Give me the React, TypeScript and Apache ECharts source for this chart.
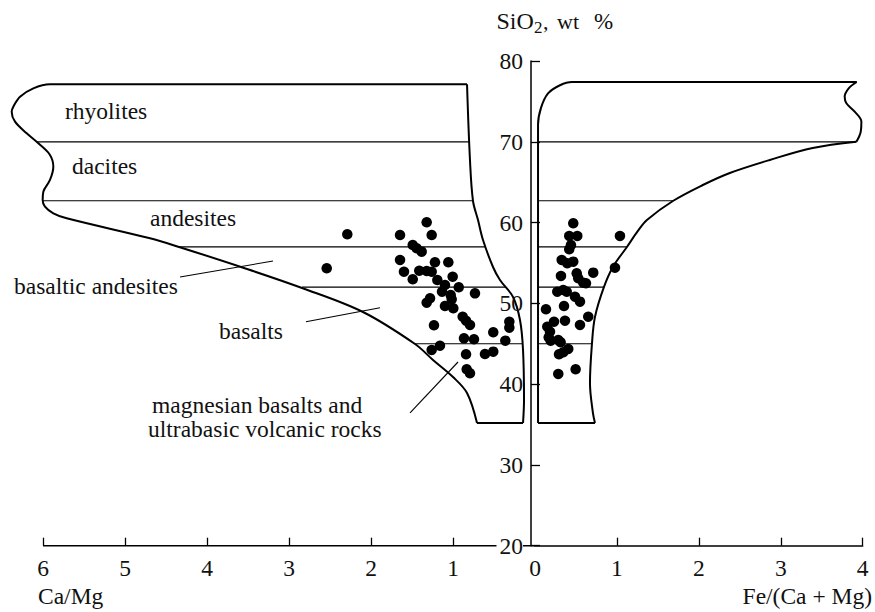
import React, { useEffect, useRef } from "react";
import * as echarts from "echarts";

const FONT = "'Liberation Serif', 'Times New Roman', Times, serif";

// ---- Axis ticks ----
const caMgTicks = [1, 2, 3, 4, 5, 6];
const caMgAxisLine: [number, number][] = [[0, 20], [6, 20]];
const feTicks = [1, 2, 3, 4];
const feLabels = [0, 1, 2, 3, 4];
const sio2Min = 20;
const sio2Max = 80;

// ---- Field boundaries, left panel (Ca/Mg, SiO2) ----
const leftOutlineCurve: [number, number][] = [
  [0.829, 77.12], [5.915, 77.12], [6.118, 76.62], [6.28, 75.58], [6.362, 74.35],
  [6.382, 73.73], [6.341, 72.49], [6.199, 71.05], [6.057, 69.81], [5.915, 68.37],
  [5.874, 66.92], [5.915, 65.27], [5.996, 63.82], [6.004, 62.8], [5.976, 61.97],
  [5.874, 61.15], [5.711, 60.53], [4.695, 58.05], [4.341, 56.98], [3.585, 54.5],
  [2.841, 51.9], [2.098, 48.93], [1.463, 44.97], [1.244, 42.99], [1.0, 40.88],
  [0.829, 38.9], [0.707, 35.19],
];
const leftOutlineBase: [number, number][] = [[0.707, 35.19], [0.146, 35.19]];
const leftOutlineInner: [number, number][] = [
  [0.146, 35.19], [0.134, 38.04], [0.146, 44.23], [0.183, 47.94], [0.268, 50.79],
  [0.427, 52.89], [0.512, 54.5], [0.634, 57.84], [0.695, 60.32], [0.756, 62.67],
  [0.793, 67.75], [0.829, 77.12],
];

// ---- Field boundaries, right panel (Fe/(Ca+Mg), SiO2) ----
const rightOutlineOuter: [number, number][] = [
  [0.037, 35.19], [0.037, 45], [0.037, 55], [0.037, 65], [0.037, 70], [0.037, 72.1],
  [0.073, 74.2], [0.159, 76.0], [0.305, 77.0], [0.451, 77.4], [3.927, 77.4],
];
const rightOutlineWave: [number, number][] = [
  [3.927, 77.4], [3.829, 76.62], [3.78, 75.58], [3.801, 74.77], [3.902, 73.73],
  [3.984, 72.49], [3.976, 71.25], [3.923, 70.0],
];
const rightOutlineCurve: [number, number][] = [
  [3.923, 70.0], [3.39, 69.23], [2.866, 67.75], [2.378, 66.14], [2.049, 64.65],
  [1.683, 62.67], [1.366, 60.32], [1.256, 58.96], [1.122, 56.98], [0.951, 54.5],
  [0.841, 52.0], [0.732, 48.31], [0.695, 44.97], [0.671, 40.14], [0.707, 36.43],
  [0.732, 35.19],
];
const rightOutlineBase: [number, number][] = [[0.037, 35.19], [0.732, 35.19]];

// ---- Rock class boundaries (SiO2 levels) ----
const classLevels = [70, 62.7, 57, 52, 45];
const leftLevelFrom = [6.07, 6.0, 4.341, 2.841, 1.463];
const leftLevelTo = [0.805, 0.756, 0.61, 0.354, 0.151];
const rightLevelFrom = [0.037, 0.037, 0.037, 0.037, 0.037];
const rightLevelTo = [3.923, 1.683, 1.122, 0.841, 0.695];

// ---- Label leader lines (left panel) ----
const leaderBasalticAndesites: [number, number][] = [[4.329, 53.26], [3.195, 55.24]];
const leaderBasalts: [number, number][] = [[2.793, 47.73], [1.89, 49.46]];
const leaderMagnesian: [number, number][] = [[1.524, 36.43], [0.939, 42.74]];

// ---- Samples ----
const caMgSamples: [number, number][] = [
  [1.321, 60.03], [2.289, 58.55], [1.646, 58.46], [1.26, 58.46], [1.491, 57.22],
  [1.443, 56.82], [1.382, 56.4], [2.54, 54.34], [1.646, 55.37], [1.22, 55.08],
  [1.057, 55.08], [1.598, 53.92], [1.411, 54.04], [1.321, 54.01], [1.26, 53.92],
  [1.491, 52.98], [1.191, 52.89], [1.004, 53.3], [1.098, 52.27], [0.93, 51.99],
  [1.134, 51.44], [1.028, 51.03], [0.732, 51.24], [1.28, 50.63], [1.321, 50.08],
  [1.016, 50.5], [1.098, 49.67], [0.996, 49.39], [0.882, 48.35], [0.841, 47.85],
  [0.793, 47.32], [1.232, 47.28], [0.313, 47.73], [0.313, 46.99], [0.509, 46.42],
  [0.866, 45.67], [0.744, 45.55], [0.362, 45.38], [1.26, 44.23], [1.159, 44.76],
  [0.841, 43.69], [0.61, 43.73], [0.509, 44.02], [0.833, 41.84], [0.793, 41.34],
];
const feSamples: [number, number][] = [
  [0.467, 59.91], [0.418, 58.34], [0.516, 58.34], [0.439, 57.22], [0.418, 56.69],
  [0.326, 55.37], [0.394, 54.96], [0.467, 55.16], [0.317, 53.39], [0.509, 53.72],
  [0.711, 53.8], [0.976, 54.41], [1.037, 58.34], [0.528, 53.1], [0.589, 52.56],
  [0.622, 52.48], [0.272, 51.44], [0.345, 51.65], [0.387, 51.44], [0.488, 50.82],
  [0.549, 50.21], [0.134, 49.26], [0.354, 49.67], [0.232, 47.73], [0.366, 47.85],
  [0.549, 47.32], [0.65, 48.35], [0.15, 47.11], [0.183, 46.49], [0.167, 45.8],
  [0.191, 45.38], [0.284, 45.46], [0.313, 45.18], [0.406, 44.35], [0.345, 43.94],
  [0.293, 43.69], [0.284, 41.26], [0.496, 41.84],
];

const FS = 23.5;

function lineSeries(data: [number, number][], grid: number, width: number, smooth: number | boolean = false, z = 3) {
  return {
    type: "line",
    xAxisIndex: grid,
    yAxisIndex: grid,
    data,
    showSymbol: false,
    symbol: "none",
    smooth,
    clip: false,
    silent: true,
    lineStyle: { color: "#000", width },
    z,
  };
}

function textEl(text: string, x: number, y: number, fontSize = FS, align = "left") {
  return {
    type: "text",
    x,
    y,
    silent: true,
    style: {
      text,
      fontSize,
      fontFamily: FONT,
      fill: "#111",
      align,
      textAlign: align,
      verticalAlign: "middle",
      textVerticalAlign: "middle",
    },
  };
}

export default function App() {
  const ref = useRef<HTMLDivElement>(null);

  useEffect(() => {
    if (!ref.current) return;
    const chart = echarts.init(ref.current, null, { renderer: "svg" });

    const axisLineStyle = { color: "#000", width: 1.5 };
    const labelStyle = { fontSize: FS, fontFamily: FONT, color: "#111" };

    const series: any[] = [
      lineSeries(caMgAxisLine, 0, 1.5, false, 1),
      lineSeries(leftOutlineCurve, 0, 2, 0.35),
      lineSeries(leftOutlineBase, 0, 2),
      lineSeries(leftOutlineInner, 0, 2, 0.35),
      lineSeries(rightOutlineOuter, 1, 2, 0.35),
      lineSeries(rightOutlineWave, 1, 2, 0.35),
      lineSeries(rightOutlineCurve, 1, 2, 0.35),
      lineSeries(rightOutlineBase, 1, 2),
      lineSeries(leaderBasalticAndesites, 0, 1.1),
      lineSeries(leaderBasalts, 0, 1.1),
      lineSeries(leaderMagnesian, 0, 1.1),
    ];
    classLevels.forEach((lvl, i) => {
      series.push(lineSeries([[leftLevelFrom[i], lvl], [leftLevelTo[i], lvl]], 0, 1.2));
      series.push(lineSeries([[rightLevelFrom[i], lvl], [rightLevelTo[i], lvl]], 1, 1.2));
    });
    const dotStyle = { color: "#000", opacity: 1 };
    series.push({
      type: "scatter",
      xAxisIndex: 0,
      yAxisIndex: 0,
      data: caMgSamples,
      symbol: "circle",
      symbolSize: 10.5,
      itemStyle: dotStyle,
      silent: true,
      z: 4,
    });
    series.push({
      type: "scatter",
      xAxisIndex: 1,
      yAxisIndex: 1,
      data: feSamples,
      symbol: "circle",
      symbolSize: 10.5,
      itemStyle: dotStyle,
      silent: true,
      z: 4,
    });

    const option: any = {
      animation: false,
      backgroundColor: "#fff",
      grid: [
        { left: 2, right: 340, top: 61, bottom: 66.3 },
        { left: 535, right: 12.3, top: 61, bottom: 66.3 },
      ],
      xAxis: [
        {
          gridIndex: 0,
          type: "value",
          min: 0,
          max: 6.5,
          interval: 1,
          inverse: true,
          axisLine: { show: false, onZero: false },
          axisTick: { show: true, inside: true, length: 8, customValues: caMgTicks, lineStyle: { color: "#000", width: 1.3 } },
          axisLabel: { ...labelStyle, margin: 10, customValues: caMgTicks },
          splitLine: { show: false },
        },
        {
          gridIndex: 1,
          type: "value",
          min: 0,
          max: 4,
          interval: 1,
          axisLine: { show: true, onZero: false, lineStyle: axisLineStyle },
          axisTick: { show: true, inside: true, length: 8, customValues: feTicks, lineStyle: { color: "#000", width: 1.3 } },
          axisLabel: { ...labelStyle, margin: 10, customValues: feLabels },
          splitLine: { show: false },
        },
      ],
      yAxis: [
        {
          gridIndex: 0,
          type: "value",
          min: sio2Min,
          max: sio2Max,
          interval: 10,
          show: false,
          splitLine: { show: false },
        },
        {
          gridIndex: 1,
          type: "value",
          min: sio2Min,
          max: sio2Max,
          interval: 10,
          position: "left",
          offset: 4,
          z: 5,
          axisLine: { show: true, onZero: false, lineStyle: axisLineStyle },
          axisTick: { show: true, inside: true, length: 9, lineStyle: { color: "#000", width: 1.3 } },
          axisLabel: {
            ...labelStyle,
            margin: 8,
            formatter: (v: number) => (v === sio2Min ? "{w|" + v + "}" : String(v)),
            rich: {
              w: { ...labelStyle, backgroundColor: "#fff", padding: [0, 0, 0, 3] },
            },
          },
          splitLine: { show: false },
        },
      ],
      graphic: [
        textEl("rhyolites", 65, 111),
        textEl("dacites", 72, 166),
        textEl("andesites", 150, 217.6),
        textEl("basaltic andesites", 14, 286.4),
        textEl("basalts", 219, 331),
        textEl("magnesian basalts and", 152, 405),
        textEl("ultrabasic volcanic rocks", 148, 428.8),
        textEl("Ca/Mg", 38, 596),
        textEl("Fe/(Ca + Mg)", 872, 596, FS, "right"),
        textEl("SiO", 496.5, 21.2, 24),
        textEl("2", 534, 27.6, 17),
        textEl(",", 543, 21.8, 22),
        textEl("wt", 557, 21.8, 22),
        textEl("%", 594, 21.8, 23),
      ],
      series,
    };

    chart.setOption(option);
    return () => chart.dispose();
  }, []);

  return (
    <div
      ref={ref}
      style={{ position: "fixed", left: 0, top: 0, width: 875, height: 612, background: "#fff" }}
    />
  );
}
